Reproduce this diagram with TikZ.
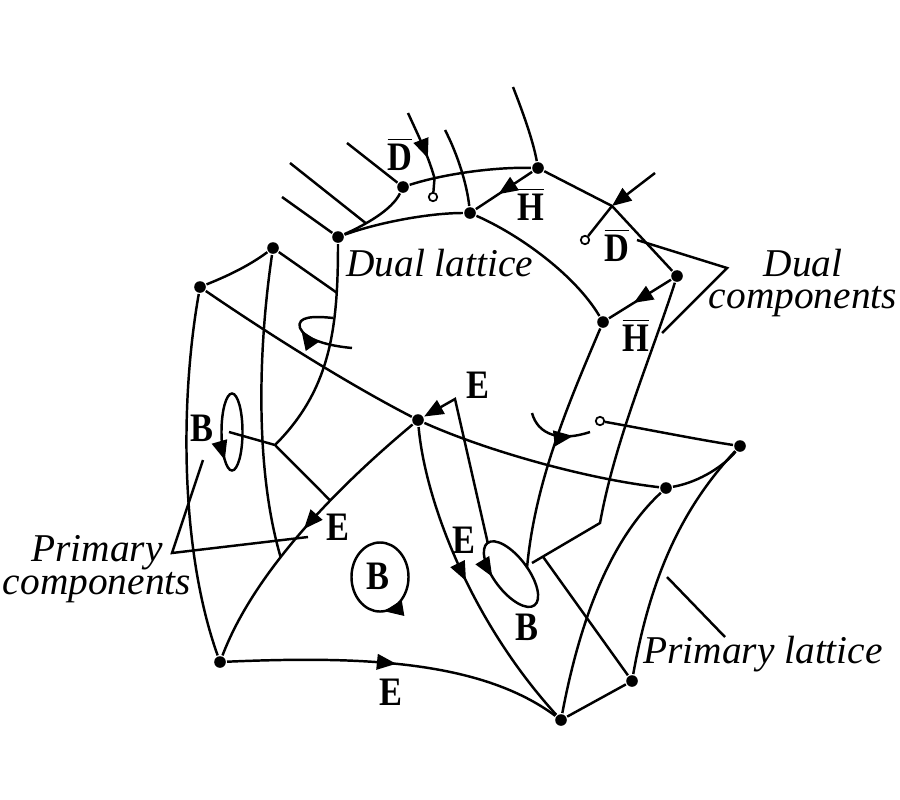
\documentclass[tikz,border=0pt]{standalone}
\usepackage{fontspec}
\setmainfont{Liberation Serif}
\usetikzlibrary{arrows.meta,decorations.markings}

\newcommand{\tightlines}{\lineskiplimit=-10pt\relax}
\tikzset{
  dot/.style={circle,fill,inner sep=0pt,minimum size=3.3pt},
  hole/.style={circle,draw,fill=white,inner sep=0pt,minimum size=2.4pt,line width=.5pt},
  lbl/.style={font=\bfseries\fontsize{11.5}{12}\selectfont,inner sep=0pt,xscale=.85},
  note/.style={font={\itshape\fontsize{11.2}{9.2}\selectfont\tightlines},inner sep=0pt},
  arrowed/.style={-{Triangle[length=5.5pt,width=4.4pt]}},
  midtip/.style={postaction={decorate},decoration={markings,
      mark=at position #1 with {\arrow{Triangle[length=5.5pt,width=4.4pt]}}}},
  midtipback/.style={postaction={decorate},decoration={markings,
      mark=at position #1 with {\arrowreversed{Triangle[length=5.5pt,width=4.4pt]}}}},
}

\begin{document}
\begin{tikzpicture}[x=0.01cm,y=-0.01cm,line width=.7pt]
  \useasboundingbox (0,0) rectangle (900,800);

  \node[dot] (p1) at (200,287) {};
  \node[dot] (p2) at (273,248) {};
  \node[dot] (p3) at (418,420) {};
  \node[dot] (p4) at (220,662) {};
  \node[dot] (p5) at (561,720) {};
  \node[dot] (p6) at (632,681) {};
  \node[dot] (p7) at (666,488) {};
  \node[dot] (p8) at (740,446) {};

  \node[dot] (d1) at (338,237) {};
  \node[dot] (d2) at (403,187) {};
  \node[dot] (d3) at (470,213) {};
  \node[dot] (d4) at (538,168) {};
  \node[dot] (d5) at (603,322) {};
  \node[dot] (d6) at (677,276) {};
  \coordinate (dx) at (612,206);
  \coordinate (dj) at (275,445);
  \coordinate (dk) at (600,523);

  \node[hole] (h1) at (433,197) {};
  \node[hole] (h2) at (585,240) {};
  \node[hole] (h3) at (600,421) {};

  \coordinate (s1) at (282,197);
  \coordinate (s2) at (290,163);
  \coordinate (s3) at (347,143);
  \coordinate (s4) at (445,130);
  \coordinate (s5) at (513,87);
  \coordinate (s6) at (408,113);
  \coordinate (s7) at (655,173);
  \coordinate (b1) at (229,432);
  \coordinate (b2) at (527,568);
  \coordinate (b3) at (532,563);
  \coordinate (b4) at (488,544);
  \coordinate (ec) at (455,399);
  \coordinate (c1) at (232,432);
  \coordinate (c2) at (380,577);
  \coordinate (c3) at (511,574);
  \coordinate (r1) at (352,348);
  \coordinate (r2) at (333,318);
  \coordinate (r3) at (532,413);
  \coordinate (r4) at (590,432);

  \draw (p1) .. controls (230,275) and (250,265) .. (p2);
  \draw (p1) .. controls (270,335) and (350,385) .. (p3);
  \draw (p3) .. controls (480,448) and (580,478) .. (p7);
  \draw (p7) .. controls (700,482) and (725,465) .. (p8);
  \draw (p1) .. controls (180,400) and (180,550) .. (p4);
  \draw[midtip=.5] (p3) .. controls (340,485) and (255,570) .. (p4)
    coordinate[pos=.37] (q1) coordinate[pos=.61] (q2);
  \draw (p2) .. controls (258,350) and (255,470) .. (q2);
  \draw[midtip=.5] (p4) .. controls (360,656) and (480,660) .. (p5);
  \draw[midtip=.5] (p3) .. controls (425,500) and (470,620) .. (p5);
  \draw (p5) -- (p6);
  \draw (p6) .. controls (650,580) and (680,510) .. (p8);
  \draw (p5) .. controls (580,620) and (610,540) .. (p7);

  \draw (d1) .. controls (338,330) and (330,390) .. (dj) coordinate[pos=.2] (q3);
  \draw (p2) -- (q3);
  \draw (dj) -- (b1);
  \draw (dj) -- (q1);
  \draw (s1) -- (d1);
  \draw (d1) .. controls (365,225) and (392,210) .. (d2) coordinate[pos=.33] (q4);
  \draw (s2) -- (q4);
  \draw (s3) -- (d2);
  \draw (d2) .. controls (440,175) and (490,167) .. (d4) coordinate[pos=.24] (q5);
  \draw[midtip=.7] (s6) .. controls (418,135) and (428,155) .. (q5);
  \draw (q5) -- (h1);
  \draw (d1) .. controls (380,222) and (430,213) .. (d3);
  \draw (s4) .. controls (458,155) and (467,185) .. (d3);
  \draw (s5) .. controls (522,110) and (533,140) .. (d4);
  \draw[midtip=.6] (d4) -- (d3);
  \draw (d4) -- (dx) -- (d6);
  \draw[arrowed] (s7) -- (dx);
  \draw (dx) -- (h2);
  \draw (d3) .. controls (520,235) and (575,275) .. (d5);
  \draw[midtip=.6] (d6) -- (d5);
  \draw (d5) .. controls (570,400) and (535,480) .. (b2);
  \draw (d6) .. controls (650,360) and (615,440) .. (dk) -- (b3) coordinate[pos=.84] (q6);
  \draw (q6) -- (p6);
  \draw (h3) .. controls (640,428) and (700,440) .. (p8);

  \draw[arrowed] (b4) -- (ec) -- (p3);
  \draw[midtip=.7,rotate around={-53:(c3)}] (c3) ellipse [x radius=.39cm,y radius=.17cm];
  \draw[midtip=.67] (c1) ellipse [x radius=.105cm,y radius=.385cm];
  \draw[midtipback=.77] (c2) ellipse [x radius=.285cm,y radius=.345cm];
  \draw[midtip=.56] (r1) .. controls (330,346) and (305,340) .. (300,328)
    .. controls (296,316) and (315,316) .. (r2);
  \draw[midtip=.75] (r3) .. controls (538,435) and (560,442) .. (r4);

  \coordinate (l1) at (203,460);
  \coordinate (l2) at (172,553);
  \coordinate (l3) at (308,537);
  \coordinate (l4) at (637,240);
  \coordinate (l5) at (727,268);
  \coordinate (l6) at (662,333);
  \coordinate (l7) at (667,577);
  \coordinate (l8) at (725,637);
  \draw (l1) -- (l2) -- (l3);
  \draw (l4) -- (l5) -- (l6);
  \draw (l7) -- (l8);

  \node[lbl] (tD1) at (400,154) {\(\overline{\mbox{D}}\)};
  \node[lbl] (tH1) at (531,204) {\(\overline{\mbox{H}}\)};
  \node[lbl] (tD2) at (617,245) {\(\overline{\mbox{D}}\)};
  \node[lbl] (tH2) at (636,335) {\(\overline{\mbox{H}}\)};
  \node[lbl] (tE1) at (478,385) {E};
  \node[lbl] (tE2) at (338,527) {E};
  \node[lbl] (tE3) at (464,540) {E};
  \node[lbl] (tE4) at (391,692) {E};
  \node[lbl] (tB1) at (202,428) {B};
  \node[lbl] (tB2) at (378,576) {B};
  \node[lbl] (tB3) at (527,627) {B};

  \node[note,anchor=base west] (tdl) at (345,276) {Dual lattice};
  \node[note,align=center] (tdc) at (803,283) {Dual\\components};
  \node[note,align=center] (tpc) at (97,569) {Primary\\components};
  \node[note,anchor=base west] (tpl) at (642,663) {Primary lattice};
\end{tikzpicture}
\end{document}
